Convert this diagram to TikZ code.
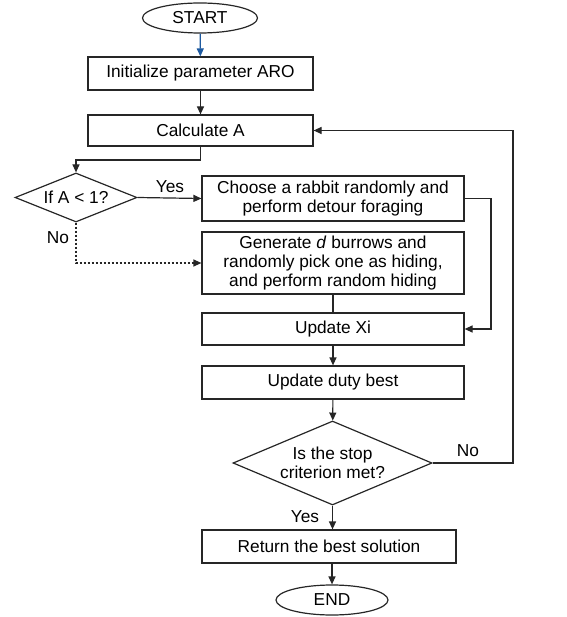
\documentclass[tikz,border=0pt]{standalone}
\usepackage{fontspec}
\setmainfont{Liberation Sans}
\usetikzlibrary{shapes.geometric,arrows.meta}
\begin{document}
\begin{tikzpicture}[x=1pt,y=-1pt,
  every node/.style={font=\fontsize{17.3}{19}\selectfont, inner sep=0pt, align=center},
  proc/.style={draw=black!85, line width=1.2pt, rectangle},
  term/.style={draw=black!85, line width=1.2pt, ellipse},
  dec/.style={draw=black!85, line width=1.2pt, diamond},
  conn/.style={line width=1.2pt, draw=black!85},
  arr/.style={conn, -{Triangle[length=8pt,width=7pt]}},
  lbl/.style={font=\fontsize{17.3}{19}\selectfont}]
\useasboundingbox (0,0) rectangle (566,617);
\node[term, minimum width=115pt, minimum height=30pt] (start) at (200,18) {START};
\node[proc, minimum width=225pt, minimum height=33pt] (init) at (200.5,73.5) {Initialize parameter ARO};
\node[proc, minimum width=225pt, minimum height=31pt] (calc) at (200.5,130.5) {Calculate A};
\node[dec, minimum width=122pt, minimum height=49pt] (d1) at (76,197.5) {};
\node (d1t) at (76,197.5) {If A < 1?};
\node[proc, minimum width=262pt, minimum height=45pt] (choose) at (333,198.5) {Choose a rabbit randomly and\\perform detour foraging};
\node[proc, minimum width=262pt, minimum height=62pt] (gen) at (333,263) {Generate \textit{d} burrows and\\randomly pick one as hiding,\\and perform random hiding};
\node[proc, minimum width=262pt, minimum height=32pt] (upd) at (333,329) {Update Xi};
\node[proc, minimum width=262pt, minimum height=33pt] (duty) at (333,382.5) {Update duty best};
\node[dec, minimum width=199pt, minimum height=84pt] (d2) at (332.5,463) {};
\node (d2t) at (332.5,463) {Is the stop\\criterion met?};
\node[proc, minimum width=254pt, minimum height=33pt] (ret) at (329,546.5) {Return the best solution};
\node[term, minimum width=112pt, minimum height=30pt] (end) at (332,600) {END};

\coordinate (c1) at (200.5,160);
\coordinate (c2) at (491,198.5);
\coordinate (c3) at (513,463);

\draw[arr, draw={rgb,255:red,30;green,90;blue,160}] (start) -- (init);
\draw[arr] (init) -- (calc);
\draw[arr] (calc.south) -- (c1) -| (d1.north);
\draw[arr] (d1.east) -- (choose.west);
\draw[arr, dash pattern=on 2pt off 2pt] (d1.south) |- (gen.west);
\draw[arr] (choose.east) -- (c2) |- (upd.east);
\draw[conn] (gen.south) -- (upd.north);
\draw[arr] (upd) -- (duty);
\draw[arr] (duty) -- (d2);
\draw[arr] (d2.east) -- (c3) |- (calc.east);
\draw[arr] (d2.south) -- (d2.south |- ret.north);
\draw[arr] (ret.south -| end.north) -- (end.north);

\node[lbl] (yes1) at (170,187) {Yes};
\node[lbl] (no1) at (58,238) {No};
\node[lbl] (no2) at (468,451) {No};
\node[lbl] (yes2) at (305,517) {Yes};
\end{tikzpicture}
\end{document}
